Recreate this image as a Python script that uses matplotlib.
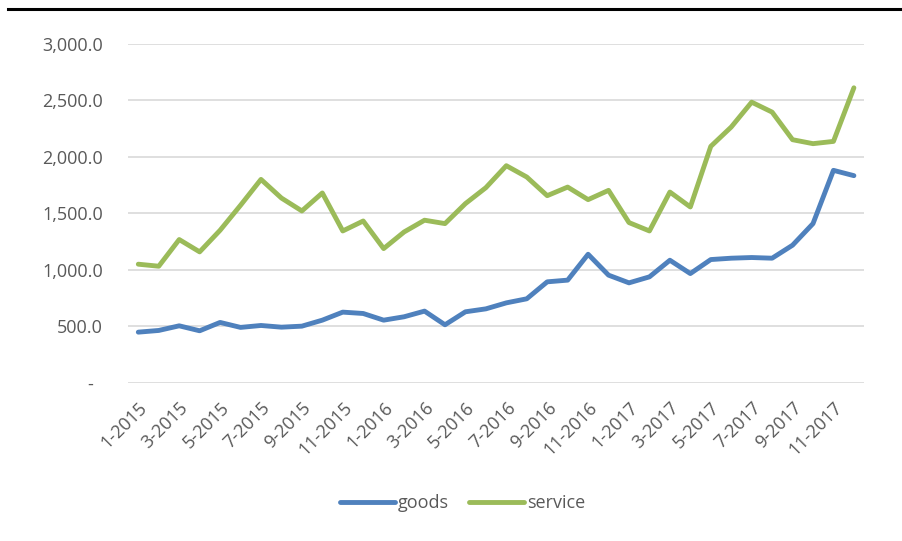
import matplotlib
matplotlib.use('Agg')
import matplotlib.pyplot as plt
from matplotlib.lines import Line2D
from matplotlib.ticker import FuncFormatter

# monthly values, 1-2015 .. 12-2017
months = [f'{m}-{y}' for y in (2015, 2016, 2017) for m in range(1, 13)]
goods = [450, 465, 506, 462, 536, 492, 509, 494, 503, 556, 627, 615,
         556, 586, 636, 515, 630, 656, 709, 745, 895, 910, 1139, 954,
         886, 939, 1086, 968, 1092, 1104, 1110, 1104, 1219, 1410, 1881, 1834]
service = [1051, 1033, 1269, 1160, 1351, 1572, 1801, 1636, 1522, 1681, 1345, 1433,
           1189, 1336, 1440, 1410, 1587, 1728, 1922, 1822, 1657, 1733, 1622, 1704,
           1419, 1345, 1689, 1557, 2093, 2264, 2484, 2396, 2152, 2117, 2137, 2611]
yticks = [0, 500, 1000, 1500, 2000, 2500, 3000]

txt = '#595959'
plt.rcParams['font.family'] = ['Open Sans', 'DejaVu Sans']

fig = plt.figure(figsize=(9.02, 5.41), dpi=100)
ax = fig.add_axes([0.142, 0.292, 0.816, 0.627])

x = list(range(len(months)))
ax.plot(x, goods, color='#4F81BD', lw=3.5, solid_capstyle='round', label='goods')
ax.plot(x, service, color='#9BBB59', lw=3.5, solid_capstyle='round', label='service')

ax.set_xlim(-0.5, len(months) - 0.5)
ax.set_ylim(0, 3000)
ax.set_yticks(yticks)
ax.yaxis.set_major_formatter(FuncFormatter(lambda v, p: '-  ' if v == 0 else f'{v:,.1f}'))
ax.set_xticks(x[::2])
ax.set_xticklabels(months[::2], rotation=45, ha='right', rotation_mode='anchor')
ax.tick_params(axis='both', length=0, labelsize=13, labelcolor=txt)
ax.tick_params(axis='y', pad=18)
ax.tick_params(axis='x', pad=11)
ax.grid(axis='y', color='#D9D9D9', lw=1.2)
ax.set_axisbelow(True)
for s in ax.spines.values():
    s.set_visible(False)

leg = ax.legend(loc='center', ncol=2, frameon=False, fontsize=13, handlelength=3.05,
                handletextpad=0.15, columnspacing=1.15, labelcolor=txt)
leg.set_bbox_to_anchor((462.5 / 902, 1 - 503 / 541), transform=fig.transFigure)

# black rule across the top
fig.add_artist(Line2D([8 / 902, 1], [1 - 9 / 541] * 2, color='black', lw=2.2, transform=fig.transFigure))

fig.savefig('out.png', dpi=100)
